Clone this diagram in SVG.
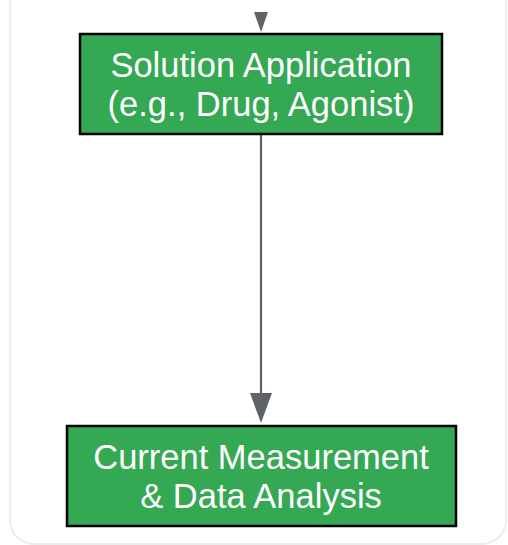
<svg xmlns="http://www.w3.org/2000/svg" width="508" height="545" viewBox="0 0 508 545">
<style>
.node rect{fill:#34A853;stroke:#000;stroke-width:2.5}
.node text{fill:#fff;font-family:"Liberation Sans",Arial,sans-serif;font-size:34.5px;text-anchor:middle}
.edge{stroke:#5f6368;stroke-width:2.2;fill:none}
.head{fill:#5f6368}
</style>
<rect x="10" y="-40" width="496" height="584" rx="24" fill="#fff" stroke="#ececec" stroke-width="2"/>
<g id="connectors">
<polygon class="head" points="254,12 268,12 261,32"/>
<line class="edge" x1="261" y1="135" x2="261" y2="396"/>
<polygon class="head" points="250,393 272,393 261,423"/>
</g>
<g id="solution" class="node">
<rect x="80" y="34" width="362" height="100"/>
<text x="261" y="77">Solution Application</text>
<text x="261" y="116">(e.g., Drug, Agonist)</text>
</g>
<g id="measurement" class="node">
<rect x="67" y="426" width="389" height="100"/>
<text x="261" y="469">Current Measurement</text>
<text x="261" y="508">&amp; Data Analysis</text>
</g>
</svg>
